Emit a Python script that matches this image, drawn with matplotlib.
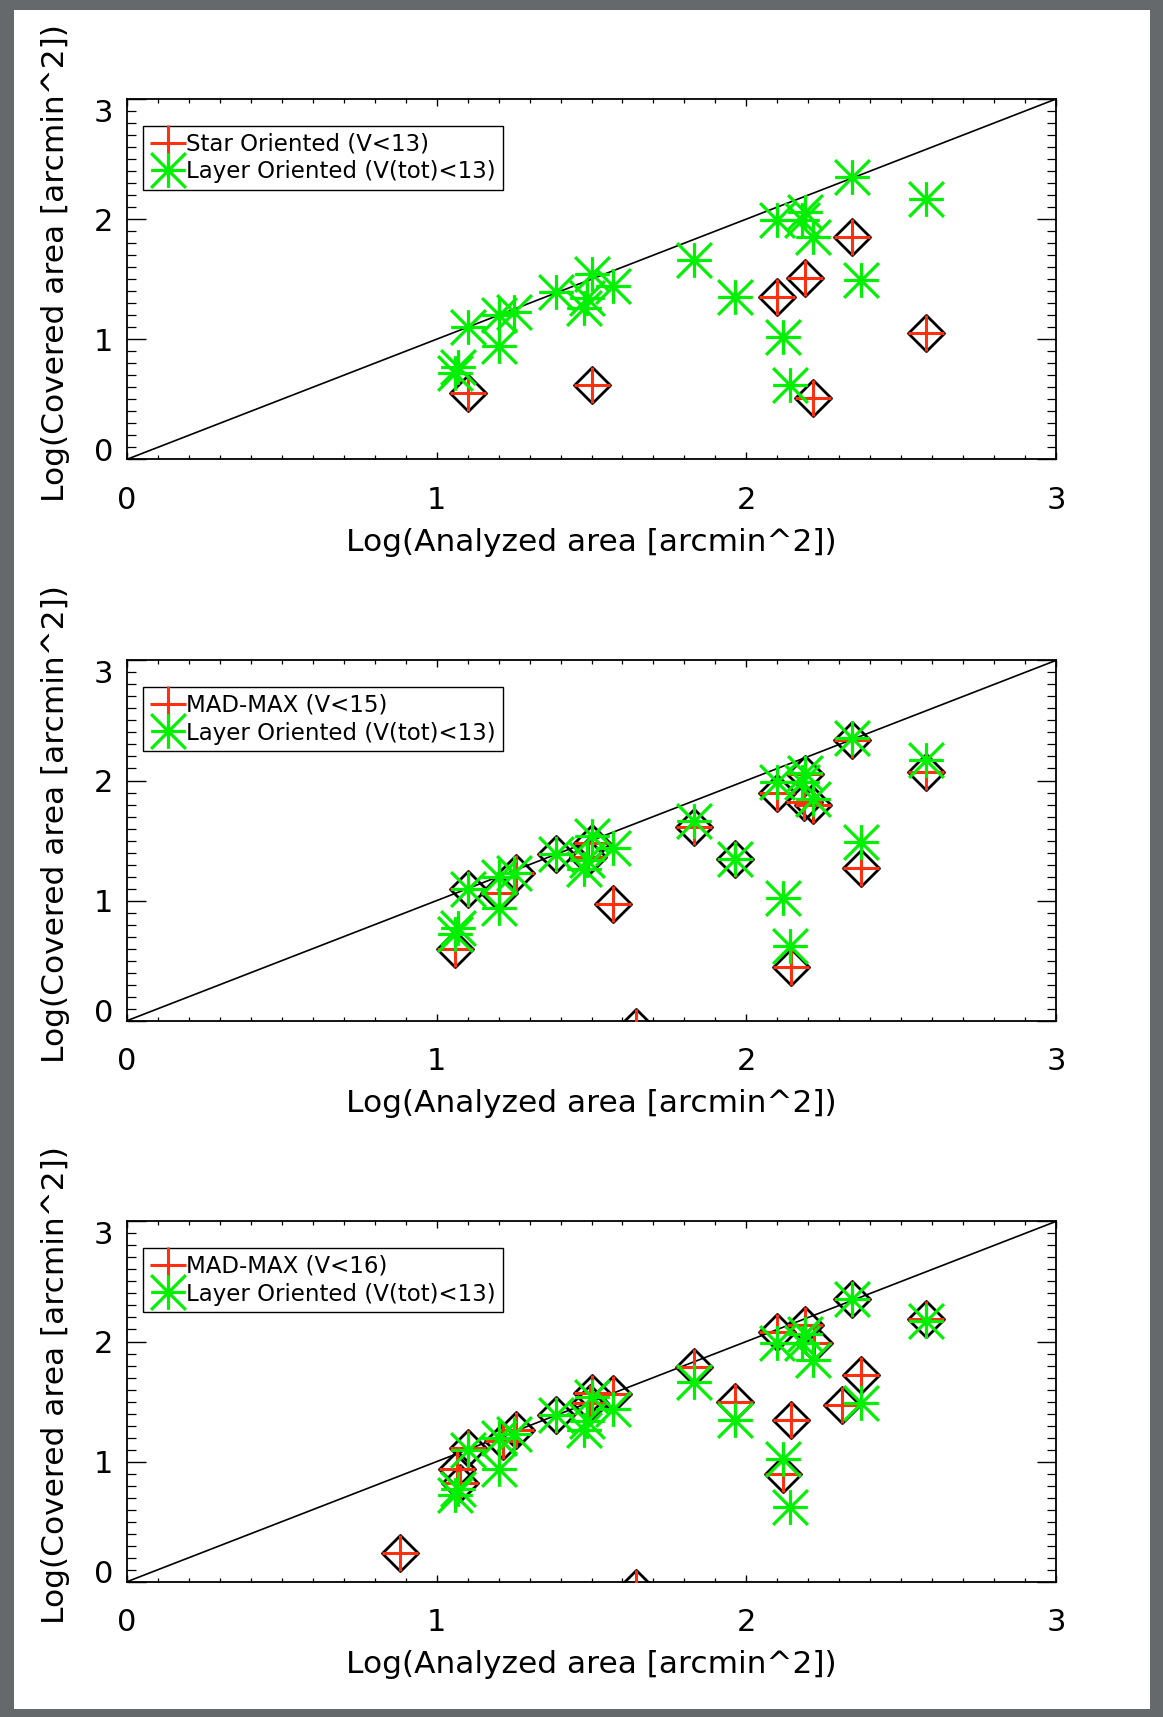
import numpy as np
import matplotlib
matplotlib.use("Agg")
import matplotlib.pyplot as plt
from matplotlib.path import Path
from matplotlib.patches import Rectangle
from matplotlib.lines import Line2D
import matplotlib.transforms as mtransforms

# Layer Oriented (V(tot)<13), same in all three panels
layer_x = [1.07, 1.06, 1.10, 1.20, 1.20, 1.25, 1.385, 1.50, 1.485, 1.475, 1.57,
           1.83, 1.965, 2.10, 2.19, 2.18, 2.215, 2.34, 2.58, 2.37, 2.12, 2.14]
layer_y = [0.77, 0.72, 1.10, 0.94, 1.20, 1.23, 1.39, 1.54, 1.34, 1.26, 1.44,
           1.66, 1.35, 1.99, 2.06, 1.99, 1.85, 2.35, 2.17, 1.49, 1.02, 0.62]

# Star Oriented (V<13)
star_x = [1.10, 1.50, 2.10, 2.19, 2.34, 2.58, 2.215]
star_y = [0.55, 0.615, 1.355, 1.51, 1.85, 1.055, 0.51]

# MAD-MAX (V<15)
mm15_x = [1.06, 1.10, 1.20, 1.255, 1.385, 1.49, 1.50, 1.57, 1.643, 1.83, 1.965,
          2.10, 2.19, 2.185, 2.215, 2.34, 2.58, 2.37, 2.143]
mm15_y = [0.60, 1.10, 1.06, 1.23, 1.39, 1.36, 1.48, 0.975, -0.05, 1.61, 1.345,
          1.90, 2.05, 1.82, 1.80, 2.34, 2.07, 1.27, 0.45]

# MAD-MAX (V<16)
mm16_x = [0.88, 1.065, 1.075, 1.10, 1.215, 1.255, 1.385, 1.495, 1.50, 1.57, 1.643,
          1.83, 1.965, 2.10, 2.19, 2.22, 2.34, 2.58, 2.37, 2.31, 2.143, 2.12]
mm16_y = [0.24, 0.94, 0.82, 1.11, 1.17, 1.26, 1.39, 1.49, 1.57, 1.56, -0.05,
          1.79, 1.50, 2.08, 2.14, 1.99, 2.35, 2.19, 1.72, 1.47, 1.35, 0.90]

labels_red = ["Star Oriented (V<13)", "MAD-MAX (V<15)", "MAD-MAX (V<16)"]
label_green = "Layer Oriented (V(tot)<13)"
axis_range = [0, 3]

RED = '#ff3010'
GREEN = '#00f000'

# IDL-like symbols
asterisk = Path([(-1, 0), (1, 0), (0, -1), (0, 1), (-1, -1), (1, 1), (-1, 1), (1, -1)],
                [Path.MOVETO, Path.LINETO] * 4)
diamond = Path([(0, 1), (1, 0), (0, -1), (-1, 0), (0, 1)],
               [Path.MOVETO, Path.LINETO, Path.LINETO, Path.LINETO, Path.CLOSEPOLY])

plt.rcParams['font.family'] = 'DejaVu Sans'

fig = plt.figure(figsize=(11.63, 17.17), dpi=100, facecolor='#65696c')
# white page on the gray background
fig.patches.append(Rectangle((14 / 1163, 1 - 1709 / 1717), (1150 - 14) / 1163, (1709 - 10) / 1717,
                             transform=fig.transFigure, facecolor='white', edgecolor='none', zorder=-10))

left = 127 / 1163
width = 929 / 1163
bottoms = [1 - 459.3 / 1717, 1 - 1020.7 / 1717, 1 - 1581.7 / 1717]
height = 360.3 / 1717

red_sets = [(star_x, star_y), (mm15_x, mm15_y), (mm16_x, mm16_y)]


def panel(ax, rx, ry, red_label):
    ax.set_facecolor('white')
    ax.plot(axis_range, axis_range, color='black', lw=1.2, zorder=2)
    ax.plot(rx, ry, ls='none', marker=diamond, ms=26, mfc='none', mec='black', mew=2.0, zorder=3)
    ax.plot(rx, ry, ls='none', marker='+', ms=26, color=RED, mew=2.2, zorder=4)
    ax.plot(layer_x, layer_y, ls='none', marker=asterisk, ms=25, color=GREEN, mew=2.3, zorder=5)

    ax.set_xlim(axis_range)
    ax.set_ylim(axis_range)
    ax.set_xticks([0, 1, 2, 3])
    ax.set_yticks([0, 1, 2, 3])
    ax.set_xticks(np.arange(0, 3.01, 0.1), minor=True)
    ax.set_yticks(np.arange(0, 3.01, 0.1), minor=True)
    ax.tick_params(axis='x', which='major', direction='in', length=5.2, width=1.0,
                   top=True, labelsize=22, pad=19)
    ax.tick_params(axis='x', which='minor', direction='in', length=2.6, width=0.9, top=True)
    ax.tick_params(axis='y', which='major', direction='in', length=13.4, width=1.0,
                   right=True, labelsize=22, pad=10)
    ax.tick_params(axis='y', which='minor', direction='in', length=6.7, width=0.9, right=True)
    for s in ax.spines.values():
        s.set_linewidth(1.3)

    ax.set_xlabel('Log(Analyzed area [arcmin^2])', fontsize=22.5, va='center')
    ax.xaxis.set_label_coords(0.5, -0.23)
    ax.set_ylabel('Log(Covered area [arcmin^2])', fontsize=22.5, va='center')
    ax.yaxis.set_label_coords(-0.077, 0.545)

    # IDL pushes the end labels inside the axis range
    ylabs = ax.get_yticklabels()
    ylabs[0].set_transform(ylabs[0].get_transform() +
                           mtransforms.ScaledTranslation(0, 10 / 100, fig.dpi_scale_trans))
    ylabs[-1].set_transform(ylabs[-1].get_transform() +
                            mtransforms.ScaledTranslation(0, -11 / 100, fig.dpi_scale_trans))

    handles = [Line2D([], [], ls='none', marker='+', ms=26, color=RED, mew=2.2),
               Line2D([], [], ls='none', marker=asterisk, ms=25, color=GREEN, mew=2.3)]
    leg = ax.legend(handles, [red_label, label_green], loc='upper left',
                    bbox_to_anchor=(0.017, 0.926), borderaxespad=0, fontsize=16.5,
                    handlelength=1.6, handletextpad=0.0, borderpad=0.3, labelspacing=0.2,
                    fancybox=False, framealpha=1, edgecolor='black')
    leg.get_frame().set_linewidth(1.0)


for i in range(3):
    ax = fig.add_axes([left, bottoms[i], width, height])
    panel(ax, red_sets[i][0], red_sets[i][1], labels_red[i])

fig.savefig('out.png', dpi=100, facecolor=fig.get_facecolor())
